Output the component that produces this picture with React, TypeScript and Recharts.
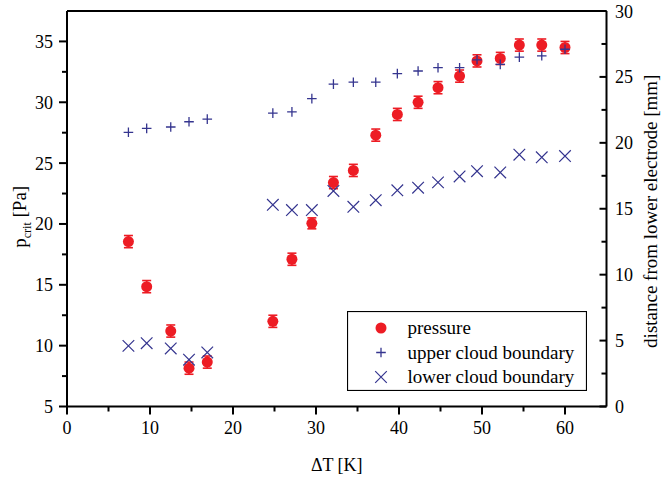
import { ScatterChart, Scatter, XAxis, YAxis, ErrorBar, Legend, Label } from 'recharts';

// ΔT [K], shared by all three series
const deltaT = [7.4, 9.6, 12.5, 14.7, 16.9, 24.8, 27.1, 29.5, 32.1, 34.5, 37.2, 39.8, 42.3, 44.7, 47.3, 49.4, 52.2, 54.5, 57.2, 60.0];
// p_crit [Pa]
const pressure = [18.55, 14.85, 11.2, 8.15, 8.65, 12.0, 17.1, 20.05, 23.4, 24.4, 27.3, 29.0, 30.0, 31.2, 32.15, 33.4, 33.6, 34.7, 34.7, 34.5];
const pressureErr = [0.5, 0.5, 0.5, 0.5, 0.5, 0.5, 0.5, 0.45, 0.5, 0.5, 0.5, 0.5, 0.5, 0.5, 0.5, 0.5, 0.5, 0.5, 0.5, 0.5];
// distance from lower electrode [mm]
const upperBoundary = [20.8, 21.1, 21.2, 21.6, 21.8, 22.25, 22.35, 23.35, 24.45, 24.6, 24.6, 25.25, 25.45, 25.7, 25.7, 26.3, 25.95, 26.5, 26.6, 27.1];
const lowerBoundary = [4.6, 4.8, 4.4, 3.55, 4.1, 15.3, 14.9, 14.9, 16.35, 15.15, 15.65, 16.4, 16.6, 17.0, 17.45, 17.85, 17.75, 19.1, 18.9, 19.0];

const xTicks = [0, 5, 10, 15, 20, 25, 30, 35, 40, 45, 50, 55, 60];
const xLabels = [0, 10, 20, 30, 40, 50, 60];
const pTicks = [5, 7.5, 10, 12.5, 15, 17.5, 20, 22.5, 25, 27.5, 30, 32.5, 35];
const pLabels = [5, 10, 15, 20, 25, 30, 35];
const dTicks = [0, 2.5, 5, 7.5, 10, 12.5, 15, 17.5, 20, 22.5, 25, 27.5, 30];
const dLabels = [0, 5, 10, 15, 20, 25, 30];

const legendNames = ['pressure', 'upper cloud boundary', 'lower cloud boundary'];

const FONT = "'Liberation Serif', Tinos, 'Times New Roman', 'DejaVu Serif', serif";
const RED = '#ED1C24';
const BLUE = '#35358F';

const pressureData = deltaT.map((x, i) => ({ x, y: pressure[i], err: pressureErr[i] }));
const upperData = deltaT.map((x, i) => ({ x, y: upperBoundary[i] }));
const lowerData = deltaT.map((x, i) => ({ x, y: lowerBoundary[i] }));

const txt = { fontFamily: FONT, fill: '#000' };

const dot = (cx: number, cy: number) => <circle cx={cx} cy={cy} r={5.5} fill={RED} />;
const plus = (cx: number, cy: number) => {
    const s = 4.8;
    return <path d={`M${cx - s},${cy}H${cx + s}M${cx},${cy - s}V${cy + s}`} stroke={BLUE} strokeWidth={1.3} fill="none" />;
};
const cross = (cx: number, cy: number) => {
    const s = 5.8;
    return <path d={`M${cx - s},${cy - s}L${cx + s},${cy + s}M${cx - s},${cy + s}L${cx + s},${cy - s}`} stroke={BLUE} strokeWidth={1.2} fill="none" />;
};
const markers = [dot, plus, cross];

const BottomTick = ({ x, y, payload }: any) => {
    const major = xLabels.includes(payload.value);
    return (
        <g>
            <line x1={x} x2={x} y1={y} y2={y + (major ? 8 : 5)} stroke="#000" strokeWidth={2} />
            {major && (
                <text x={x} y={y + 27} textAnchor="middle" style={{ ...txt, fontSize: 18 }}>{payload.value}</text>
            )}
        </g>
    );
};

const TopTick = ({ x, y, payload }: any) => {
    const major = xLabels.includes(payload.value);
    return <line x1={x} x2={x} y1={y} y2={y + (major ? 8 : 6)} stroke="#000" strokeWidth={2} />;
};

const LeftTick = ({ x, y, payload }: any) => {
    const major = pLabels.includes(payload.value);
    return (
        <g>
            <line x1={x - (major ? 8 : 5)} x2={x} y1={y} y2={y} stroke="#000" strokeWidth={2} />
            {major && (
                <text x={x - 14} y={y + 6.5} textAnchor="end" style={{ ...txt, fontSize: 18 }}>{payload.value}</text>
            )}
        </g>
    );
};

const RightTick = ({ x, y, payload }: any) => {
    const major = dLabels.includes(payload.value);
    return (
        <g>
            <line x1={x - (major ? 7 : 5)} x2={x} y1={y} y2={y} stroke="#000" strokeWidth={2} />
            {major && (
                <text x={x + 8.5} y={y + 6.5} textAnchor="start" style={{ ...txt, fontSize: 18 }}>{payload.value}</text>
            )}
        </g>
    );
};

const LegendBox = () => (
    <svg width={240} height={80} style={{ display: 'block' }}>
        <rect x={0.5} y={0.5} width={239} height={79} fill="#fff" stroke="#000" strokeWidth={1.2} />
        {legendNames.map((name, i) => {
            const cy = 17 + i * 24.5;
            return (
                <g key={name}>
                    {markers[i](34, cy)}
                    <text x={60.5} y={cy + 6} style={{ ...txt, fontSize: 19 }}>{name}</text>
                </g>
            );
        })}
    </svg>
);

export default function App() {
    return (
        <div style={{ position: 'absolute', left: 0, top: 0, width: 661, height: 481, background: '#fff', fontFamily: FONT }}>
            <ScatterChart width={661} height={481} margin={{ top: 10, right: 14.5, bottom: 34.5, left: 17 }}>
                <XAxis
                    type="number"
                    dataKey="x"
                    domain={[0, 65]}
                    allowDataOverflow
                    ticks={xTicks}
                    interval={0}
                    height={40}
                    tickSize={0}
                    tickMargin={0}
                    tickLine={false}
                    tick={BottomTick}
                    axisLine={{ stroke: '#000', strokeWidth: 2 }}
                >
                    <Label
                        content={({ viewBox }: any) => (
                            <text x={viewBox.x + viewBox.width / 2} y={viewBox.y + 64.5} textAnchor="middle" style={{ ...txt, fontSize: 18 }}>ΔT [K]</text>
                        )}
                    />
                </XAxis>
                <XAxis
                    xAxisId="top"
                    orientation="top"
                    type="number"
                    domain={[0, 65]}
                    allowDataOverflow
                    ticks={xTicks}
                    interval={0}
                    height={1}
                    tickSize={0}
                    tickMargin={0}
                    tickLine={false}
                    tick={TopTick}
                    axisLine={{ stroke: '#000', strokeWidth: 2 }}
                />
                <YAxis
                    yAxisId="left"
                    type="number"
                    dataKey="y"
                    domain={[5, 37.5]}
                    allowDataOverflow
                    ticks={pTicks}
                    interval={0}
                    width={50}
                    tickSize={0}
                    tickMargin={0}
                    tickLine={false}
                    tick={LeftTick}
                    axisLine={{ stroke: '#000', strokeWidth: 2 }}
                >
                    <Label
                        content={({ viewBox }: any) => {
                            const cx = viewBox.x + 9;
                            const cy = viewBox.y + viewBox.height / 2 + 8;
                            return (
                                <text transform={`translate(${cx},${cy}) rotate(-90)`} textAnchor="middle" style={{ ...txt, fontSize: 19 }}>
                                    <tspan>p</tspan>
                                    <tspan style={{ fontSize: 12 }} dy={5}>crit</tspan>
                                    <tspan dy={-5}> [Pa]</tspan>
                                </text>
                            );
                        }}
                    />
                </YAxis>
                <YAxis
                    yAxisId="right"
                    orientation="right"
                    type="number"
                    dataKey="y"
                    domain={[0, 30]}
                    allowDataOverflow
                    ticks={dTicks}
                    interval={0}
                    width={40}
                    tickSize={0}
                    tickMargin={0}
                    tickLine={false}
                    tick={RightTick}
                    axisLine={{ stroke: '#000', strokeWidth: 2 }}
                >
                    <Label
                        content={({ viewBox }: any) => {
                            const cx = viewBox.x + 50.5;
                            const cy = viewBox.y + viewBox.height / 2 + 2.5;
                            return (
                                <text transform={`translate(${cx},${cy}) rotate(-90)`} textAnchor="middle" style={{ ...txt, fontSize: 19 }}>
                                    distance from lower electrode [mm]
                                </text>
                            );
                        }}
                    />
                </YAxis>
                <Scatter
                    name={legendNames[0]}
                    data={pressureData}
                    yAxisId="left"
                    isAnimationActive={false}
                    shape={(p: any) => dot(p.cx, p.cy)}
                >
                    <ErrorBar dataKey="err" direction="y" width={4.5} stroke={RED} strokeWidth={1.6} isAnimationActive={false} />
                </Scatter>
                <Scatter
                    name={legendNames[1]}
                    data={upperData}
                    yAxisId="right"
                    isAnimationActive={false}
                    shape={(p: any) => plus(p.cx, p.cy)}
                />
                <Scatter
                    name={legendNames[2]}
                    data={lowerData}
                    yAxisId="right"
                    isAnimationActive={false}
                    shape={(p: any) => cross(p.cx, p.cy)}
                />
                <Legend
                    layout="horizontal"
                    verticalAlign="middle"
                    align="center"
                    content={<LegendBox />}
                    wrapperStyle={{ left: 346.5, top: 310.5, width: 240, height: 80 }}
                />
            </ScatterChart>
        </div>
    );
}
